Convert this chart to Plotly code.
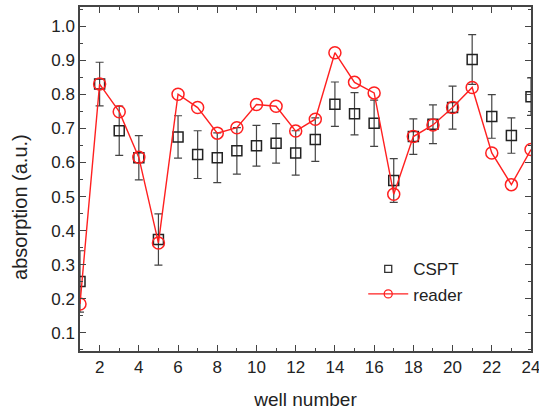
import plotly.graph_objects as go

wells = list(range(1, 25))
cspt = [0.251, 0.830, 0.693, 0.614, 0.374, 0.675, 0.623, 0.614, 0.634, 0.649, 0.656, 0.628,
        0.667, 0.771, 0.743, 0.715, 0.547, 0.676, 0.712, 0.761, 0.902, 0.735, 0.679, 0.793]
cspt_err = [0.090, 0.064, 0.072, 0.065, 0.075, 0.062, 0.070, 0.073, 0.068, 0.060, 0.058, 0.065,
            0.064, 0.065, 0.062, 0.068, 0.064, 0.052, 0.057, 0.063, 0.073, 0.064, 0.052, 0.055]
reader = [0.185, 0.830, 0.749, 0.615, 0.364, 0.800, 0.761, 0.686, 0.702, 0.770, 0.765, 0.692,
          0.727, 0.922, 0.835, 0.804, 0.507, 0.676, 0.710, 0.761, 0.820, 0.628, 0.535, 0.638]

FONT = "Liberation Sans, Arial"
BLACK = "#222222"
RED = "#ff2020"

fig = go.Figure()
fig.add_trace(go.Scatter(
    x=wells, y=cspt, mode="markers", name="CSPT", showlegend=False,
    marker=dict(symbol="square-open", size=10, color=BLACK, line=dict(width=1.5)),
    error_y=dict(type="data", array=cspt_err, visible=True, color="#444444", thickness=1.2, width=4),
))
fig.add_trace(go.Scatter(
    x=wells, y=reader, mode="lines+markers", name="reader", showlegend=False,
    line=dict(color=RED, width=1.4),
    marker=dict(symbol="circle-open", size=12, color=RED, line=dict(width=1.5)),
))
# legend-only entries with small symbols, as in the reference
fig.add_trace(go.Scatter(
    x=[None], y=[None], mode="markers", name="CSPT",
    marker=dict(symbol="square-open", size=7, color="#333333", line=dict(width=1.3)),
))
fig.add_trace(go.Scatter(
    x=[None], y=[None], mode="lines+markers", name="reader",
    line=dict(color=RED, width=1.4),
    marker=dict(symbol="circle-open", size=8, color=RED, line=dict(width=1.3)),
))

axis_common = dict(
    showline=True, linecolor="#444444", linewidth=1.5, mirror="ticks",
    ticks="inside", ticklen=6, tickwidth=1.2, tickcolor="#444444",
    showgrid=False, zeroline=False, automargin=False,
    tickfont=dict(family=FONT, size=17, color=BLACK),
)

fig.update_layout(
    width=539, height=413,
    margin=dict(l=80, r=8, t=7, b=62),
    paper_bgcolor="white", plot_bgcolor="white",
    showlegend=True,
    legend=dict(x=0.628, y=0.29, xanchor="left", yanchor="top",
                bgcolor="rgba(0,0,0,0)", font=dict(family=FONT, size=17, color=BLACK),
                tracegroupgap=0, itemwidth=40),
    xaxis=dict(axis_common, range=[1, 24], tick0=0, dtick=2, ticklabeloverflow="allow",
               minor=dict(ticks="inside", dtick=1, ticklen=3, tickcolor="#444444"),
               title=dict(text="well number", font=dict(family=FONT, size=19, color=BLACK), standoff=17)),
    yaxis=dict(axis_common, range=[0.047, 1.056], tick0=0, dtick=0.1, tickformat=".1f",
               minor=dict(ticks="inside", dtick=0.05, ticklen=3, tickcolor="#444444")),
    annotations=[dict(text="absorption (a.u.)", textangle=-90, xref="paper", yref="paper",
                      x=-0.133, y=0.419, xanchor="center", yanchor="middle", showarrow=False,
                      font=dict(family=FONT, size=20, color=BLACK))],
)

fig.write_html("out.html", config={"displayModeBar": False},
               post_script="document.body.style.margin='0';")
